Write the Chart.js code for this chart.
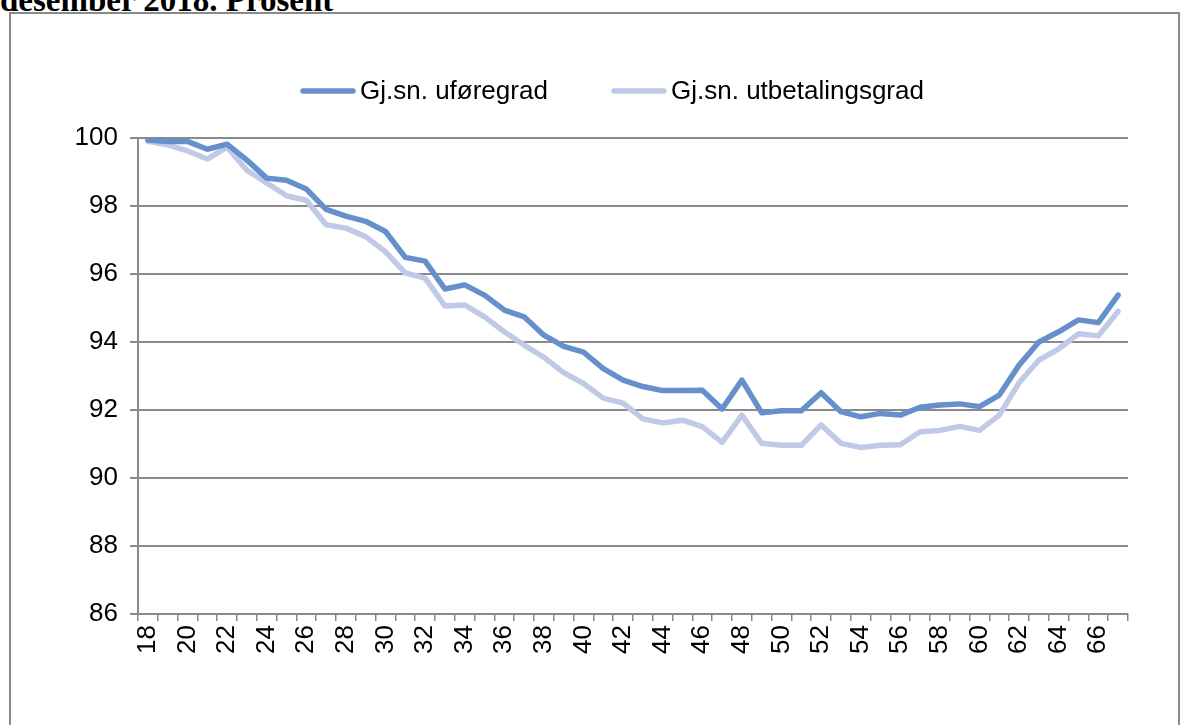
<!DOCTYPE html>
<html>
<head>
<meta charset="utf-8">
<script src="https://cdn.jsdelivr.net/npm/chart.js@4.4.1/dist/chart.umd.min.js"></script>
<style>
  html, body { margin: 0; padding: 0; background: #fff; }
  body { width: 1191px; height: 725px; position: relative; overflow: hidden; }
  #title { position: absolute; left: 0; top: -15px; font-family: "Liberation Serif", "Times New Roman", serif; font-weight: bold; font-size: 33px; line-height: 30px; color: #000; white-space: nowrap; }
  #frame { position: absolute; left: 9px; top: 12px; width: 1167px; height: 760px; border: 2px solid #8a8a8a; }
  #wrap { position: absolute; left: 0; top: 0; width: 1191px; height: 725px; }
</style>
</head>
<body>
<div id="title">desember 2018. Prosent</div>
<div id="frame"></div>
<div id="wrap"><canvas id="c" width="1191" height="725"></canvas></div>
<script>
const ages = [];
for (let a = 18; a <= 67; a++) ages.push(String(a));

const seriesNames = ["Gj.sn. uføregrad", "Gj.sn. utbetalingsgrad"];

const uforegrad = [
  99.94, 99.9, 99.9, 99.67, 99.82, 99.35, 98.82, 98.76, 98.5, 97.9,
  97.7, 97.55, 97.25, 96.49, 96.38, 95.56, 95.68, 95.38, 94.94, 94.74,
  94.2, 93.87, 93.7, 93.22, 92.88, 92.69, 92.57, 92.57, 92.58, 92.03,
  92.88, 91.92, 91.98, 91.98, 92.51, 91.95, 91.8, 91.9, 91.85, 92.08,
  92.15, 92.18, 92.1, 92.44, 93.32, 94.0, 94.3, 94.65, 94.57, 95.38
];

const utbetalingsgrad = [
  99.9, 99.8, 99.62, 99.38, 99.73, 99.05, 98.68, 98.3, 98.17, 97.45,
  97.35, 97.1, 96.65, 96.03, 95.88, 95.06, 95.09, 94.74, 94.3, 93.91,
  93.55, 93.1, 92.78, 92.35, 92.2, 91.74, 91.62, 91.7, 91.51, 91.05,
  91.85, 91.02, 90.96, 90.96, 91.56, 91.02, 90.9, 90.96, 90.98, 91.36,
  91.4, 91.52, 91.4, 91.85, 92.8, 93.47, 93.8, 94.24, 94.18, 94.9
];

const yTicks = [86, 88, 90, 92, 94, 96, 98, 100];

const darkColor = "#6690CB";
const lightColor = "#C0CAE7";
const gridColor = "#8a8a8a";
const fontFamily = "'Liberation Sans', Arial, sans-serif";

const legendPlugin = {
  id: "excelLegend",
  afterDraw(chart) {
    const ctx = chart.ctx;
    const y = 91;
    const starts = [303, 614];
    ctx.save();
    ctx.font = "26px " + fontFamily;
    ctx.textBaseline = "middle";
    ctx.textAlign = "left";
    chart.data.datasets.forEach((ds, i) => {
      const x0 = starts[i];
      ctx.strokeStyle = ds.borderColor;
      ctx.lineWidth = 5.5;
      ctx.lineCap = "round";
      ctx.beginPath();
      ctx.moveTo(x0, y);
      ctx.lineTo(x0 + 50, y);
      ctx.stroke();
      ctx.fillStyle = "#000";
      ctx.fillText(ds.label, x0 + 57, y + 1);
    });
    ctx.restore();
  }
};

new Chart(document.getElementById("c"), {
  type: "line",
  data: {
    labels: ages,
    datasets: [
      { label: seriesNames[0], data: uforegrad, borderColor: darkColor, backgroundColor: darkColor,
        borderWidth: 5.5, pointRadius: 0, tension: 0, borderCapStyle: "round", borderJoinStyle: "round", fill: false },
      { label: seriesNames[1], data: utbetalingsgrad, borderColor: lightColor, backgroundColor: lightColor,
        borderWidth: 5.5, pointRadius: 0, tension: 0, borderCapStyle: "round", borderJoinStyle: "round", fill: false }
    ]
  },
  options: {
    responsive: false,
    animation: false,
    events: [],
    layout: { padding: { left: 10, right: 63, top: 138, bottom: 11 } },
    plugins: {
      legend: { display: false },
      tooltip: { enabled: false },
      title: { display: false }
    },
    scales: {
      x: {
        type: "category",
        offset: true,
        afterFit(scale) { scale.height = 100; },
        grid: { display: true, offset: true, drawOnChartArea: false, drawTicks: true, tickLength: 7, color: gridColor, lineWidth: 1.5 },
        border: { display: true, color: gridColor, width: 2 },
        ticks: {
          autoSkip: false, maxRotation: 90, minRotation: 90, padding: 4,
          color: "#000", font: { family: fontFamily, size: 26 },
          callback: function (val, idx) { return idx % 2 === 0 ? this.getLabelForValue(val) : ""; }
        }
      },
      y: {
        min: 86, max: 100,
        afterFit(scale) { scale.width = 128; },
        afterBuildTicks(scale) { scale.ticks = yTicks.map(v => ({ value: v })); },
        grid: { color: gridColor, lineWidth: 2, drawTicks: true, tickLength: 8 },
        border: { display: true, color: gridColor, width: 2 },
        ticks: { color: "#000", padding: 12, font: { family: fontFamily, size: 26 } }
      }
    }
  },
  plugins: [legendPlugin]
});
</script>
</body>
</html>
